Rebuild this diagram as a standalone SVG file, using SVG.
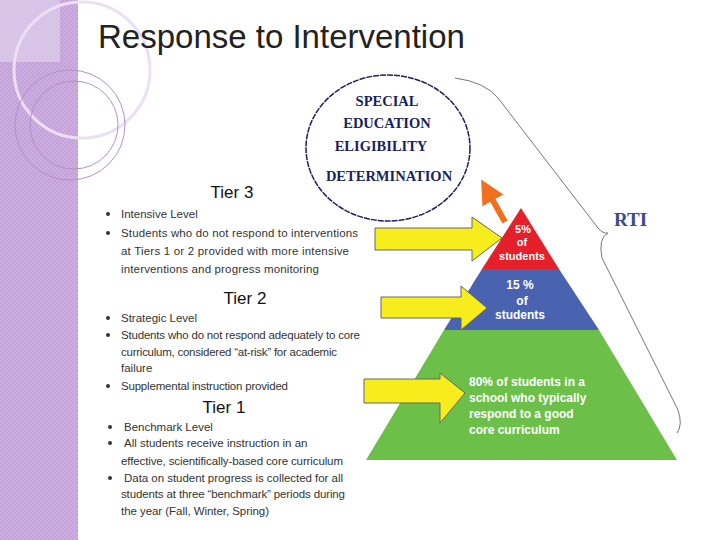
<svg xmlns="http://www.w3.org/2000/svg" width="720" height="540" viewBox="0 0 720 540">
<defs>
<pattern id="chk" width="4" height="4" patternUnits="userSpaceOnUse"><rect width="4" height="4" fill="#c4a3d8"/><rect width="2" height="2" fill="#cbaedf"/><rect x="2" y="2" width="2" height="2" fill="#cbaedf"/></pattern>
<marker id="oh" markerWidth="4" markerHeight="4" refX="2" refY="2" orient="auto" markerUnits="strokeWidth"><path d="M0,0 L4,2 L0,4 Z" fill="#f07020"/></marker>
</defs>
<style>
.t{font-family:"Liberation Sans",Arial,sans-serif;fill:#333;font-size:11.5px}
.h{font-family:"Liberation Sans",Arial,sans-serif;fill:#111;font-size:17px;text-anchor:middle}
.c{font-family:"Liberation Serif","Times New Roman",serif;font-weight:bold;fill:#1a1f5e;font-size:14.5px;text-anchor:middle}
.w{font-family:"Liberation Sans",Arial,sans-serif;font-weight:bold;fill:#fff;font-size:12px}
.s{font-size:11px}
.m{text-anchor:middle}
.y{fill:#f7ec1c;stroke:#666;stroke-width:1}
</style>
<rect width="720" height="540" fill="#fff"/>
<g id="side">
<rect width="78" height="540" fill="url(#chk)"/>
<rect width="60" height="62" fill="#dccbe8" opacity="0.8"/>
<circle cx="82" cy="70" r="68" fill="none" stroke="#ecdff4" stroke-width="3"/>
<circle cx="70" cy="125" r="55" fill="none" stroke="#b58fcb" stroke-width="1"/>
<circle cx="74" cy="125" r="44" fill="none" stroke="#b58fcb" stroke-width="1"/>
</g>
<text x="98" y="48" font-family="'Liberation Sans',Arial,sans-serif" font-size="33" fill="#222">Response to Intervention</text>
<g id="tier3">
<text class="h" x="232" y="198">Tier 3</text>
<circle cx="108" cy="214" r="2" fill="#333"/><circle cx="108" cy="233" r="2" fill="#333"/>
<text class="t" x="121" y="218">Intensive Level</text>
<text class="t" x="121" y="237" textLength="237">Students who do not respond to interventions</text>
<text class="t" x="121" y="255" textLength="228">at Tiers 1 or 2 provided with more intensive</text>
<text class="t" x="121" y="273" textLength="198">interventions and progress monitoring</text>
</g>
<g id="tier2">
<text class="h" x="245" y="304">Tier 2</text>
<circle cx="108" cy="318" r="2" fill="#333"/><circle cx="108" cy="335" r="2" fill="#333"/><circle cx="108" cy="386" r="2" fill="#333"/>
<text class="t" x="121" y="322">Strategic Level</text>
<text class="t" x="121" y="339" textLength="239">Students who do not respond adequately to core</text>
<text class="t" x="121" y="356" textLength="216">curriculum, considered “at-risk” for academic</text>
<text class="t" x="121" y="372">failure</text>
<text class="t" x="121" y="390" textLength="167">Supplemental instruction provided</text>
</g>
<g id="tier1">
<text class="h" x="224" y="413">Tier 1</text>
<circle cx="110" cy="427" r="2" fill="#333"/><circle cx="110" cy="443" r="2" fill="#333"/><circle cx="110" cy="478" r="2" fill="#333"/>
<text class="t" x="124" y="431">Benchmark Level</text>
<text class="t" x="124" y="447">All students receive instruction in an</text>
<text class="t" x="121" y="465" textLength="222">effective, scientifically-based core curriculum</text>
<text class="t" x="124" y="482" textLength="219">Data on student progress is collected for all</text>
<text class="t" x="121" y="498" textLength="224">students at three “benchmark” periods during</text>
<text class="t" x="121" y="515" textLength="148">the year (Fall, Winter, Spring)</text>
</g>
<g id="circle">
<ellipse cx="388" cy="148" rx="82" ry="73" fill="#fff" stroke="#1a1f5e" stroke-width="1.5" stroke-dasharray="6,1"/>
<text class="c" x="387" y="106">SPECIAL</text>
<text class="c" x="387" y="128">EDUCATION</text>
<text class="c" x="381" y="151">ELIGIBILITY</text>
<text class="c" x="389" y="181">DETERMINATION</text>
</g>
<g id="pyramid">
<polygon points="521,208 559,269 482,269" fill="#e5202a"/>
<polygon points="482,269 559,269 599,330 444,330" fill="#4a63b0"/>
<polygon points="444,330 599,330 677,460 366,460" fill="#6cc04a"/>
<text class="w m s" x="523" y="233">5%</text><text class="w m s" x="522" y="246">of</text><text class="w m s" x="522" y="260">students</text>
<text class="w m" x="520" y="289">15 %</text><text class="w m" x="522" y="305">of</text><text class="w m" x="520" y="319">students</text>
<text class="w" x="469" y="386">80% of students in a</text>
<text class="w" x="469" y="402">school who typically</text>
<text class="w" x="469" y="418">respond to a good</text>
<text class="w" x="469" y="434">core curriculum</text>
</g>
<text x="614" y="226" font-family="'Liberation Serif',serif" font-weight="bold" font-size="19" fill="#3a4a8a">RTI</text>
<g id="connectors">
<polygon class="y" points="375,228 472,228 472,217 502,238 472,261 472,250 375,250"/>
<polygon class="y" points="381,297 461,297 461,286 487,308 461,330 461,318 381,318"/>
<polygon class="y" points="364,379 440,379 440,373 465,393 440,423 440,403 364,403"/>
<line x1="505" y1="222" x2="487" y2="190" stroke="#f07020" stroke-width="6" marker-end="url(#oh)"/>
<path d="M455,78 Q485,82 498,98 L598,228 Q603,234 608,233 Q598,238 602,258 L678,410 Q683,425 677,433" fill="none" stroke="#777" stroke-width="1"/>
</g>
</svg>
